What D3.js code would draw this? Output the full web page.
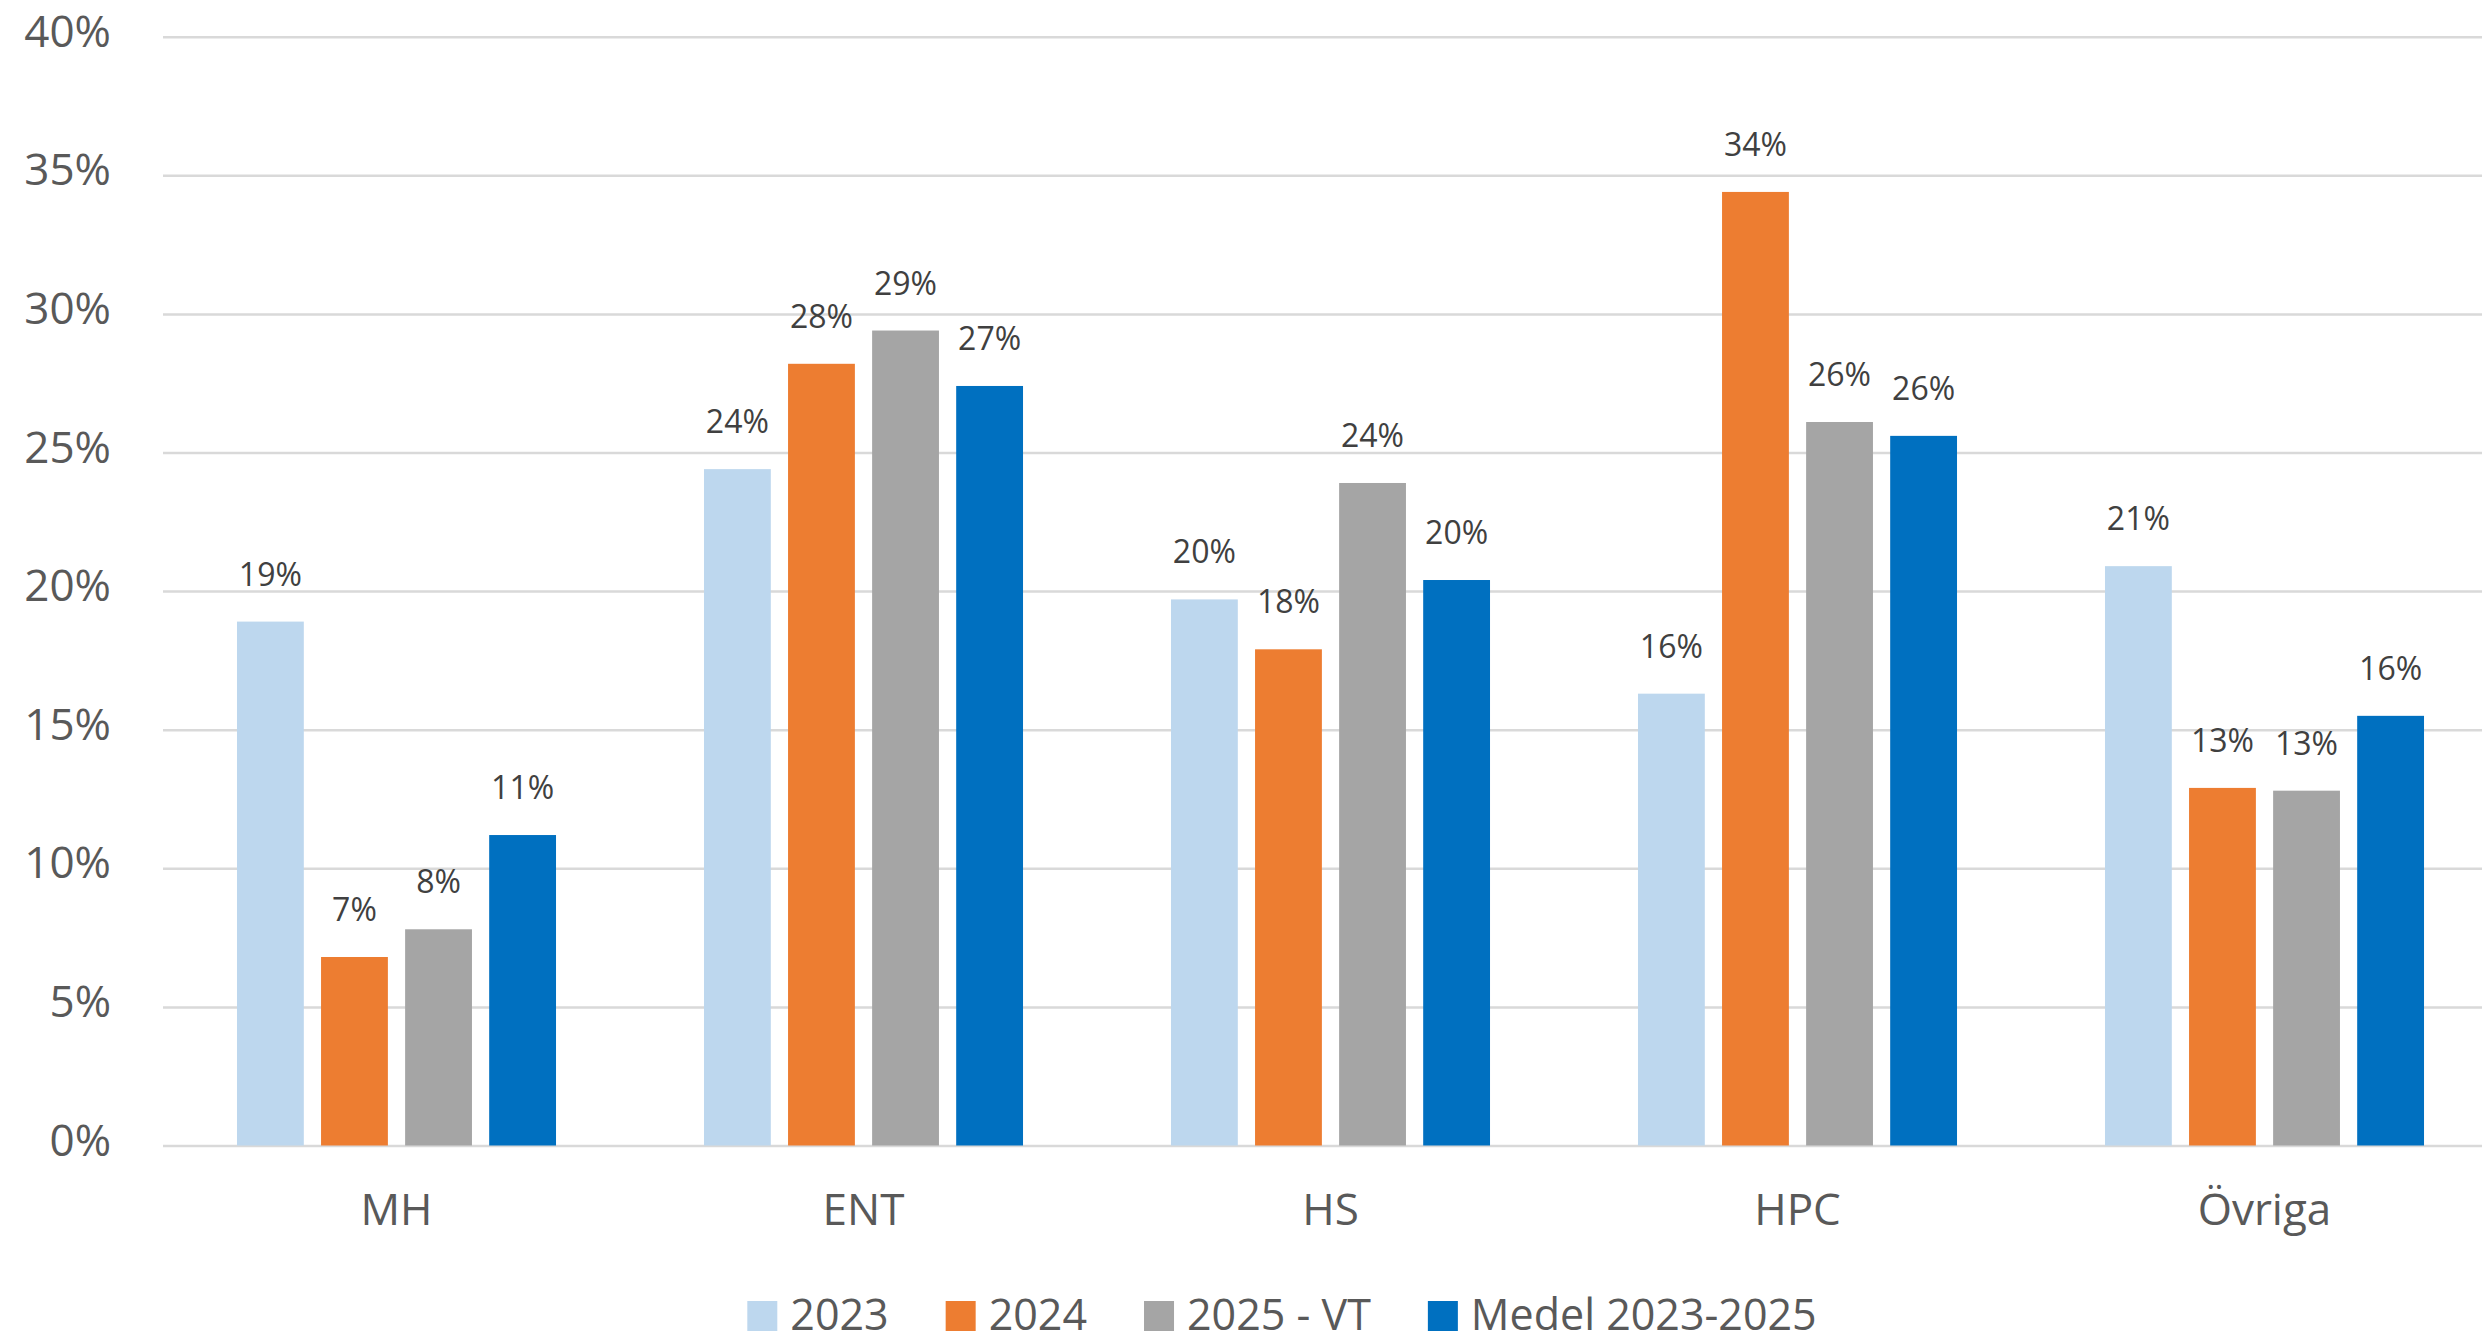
<!DOCTYPE html>
<html>
<head>
<meta charset="utf-8">
<script src="https://cdn.jsdelivr.net/npm/d3@7"></script>
<style>
  html, body { margin: 0; padding: 0; background: #fff; }
  svg { display: block; font-family: "Open Sans", "Noto Sans", sans-serif; }
</style>
</head>
<body>
<svg id="chart" width="2482" height="1343"></svg>
<script>
// Share per category and period
const categories = ["MH", "ENT", "HS", "HPC", "Övriga"];
const seriesNames = ["2023", "2024", "2025 - VT", "Medel 2023-2025"];
const values2023 = [0.189, 0.244, 0.197, 0.163, 0.209];
const values2024 = [0.068, 0.282, 0.179, 0.344, 0.129];
const values2025 = [0.078, 0.294, 0.239, 0.261, 0.128];
const valuesMedel = [0.112, 0.274, 0.204, 0.256, 0.155];
const yTicks = [0, 0.05, 0.10, 0.15, 0.20, 0.25, 0.30, 0.35, 0.40];
const seriesColors = ["#bdd7ee", "#ed7d31", "#a5a5a5", "#0070c0"];

const seriesValues = [values2023, values2024, values2025, valuesMedel];
const rows = categories.map((c, i) => ({
  category: c,
  values: seriesNames.map((s, j) => ({ series: s, value: seriesValues[j][i], idx: j }))
}));

const FONT = '"Open Sans", "Noto Sans", sans-serif';
const svg = d3.select("#chart");
const plotLeft = 163, plotRight = 2498, plotTop = 36.7, plotBottom = 1145.5;

const x0 = d3.scaleBand().domain(categories).range([plotLeft, plotRight]).padding(0);
const x1 = d3.scaleBand().domain(seriesNames).range([0, x0.bandwidth()])
  .paddingInner(0.205).paddingOuter(0.88);
const y = d3.scaleLinear().domain([0, 0.40]).range([plotBottom, plotTop]);
const color = d3.scaleOrdinal().domain(seriesNames).range(seriesColors);
const pct = d3.format(".0%");

// Horizontal gridlines with percentage labels
const yAxis = d3.axisLeft(y).tickValues(yTicks).tickFormat(pct)
  .tickSize(-(plotRight - plotLeft)).tickPadding(52);
const gy = svg.append("g").attr("transform", `translate(${plotLeft},0)`).call(yAxis)
  .attr("font-family", FONT);
gy.select(".domain").remove();
gy.selectAll(".tick line").attr("stroke", "#d9d9d9").attr("stroke-width", 2.5);
gy.selectAll(".tick text")
  .attr("fill", "#595959").attr("font-size", 44).attr("dy", "0.22em");

// Category labels
const xAxis = d3.axisBottom(x0).tickSize(0).tickPadding(48);
const gx = svg.append("g").attr("transform", `translate(0,${plotBottom})`).call(xAxis)
  .attr("font-family", FONT);
gx.select(".domain").remove();
gx.selectAll(".tick text").attr("fill", "#595959").attr("font-size", 44);

// Bars
const groups = svg.append("g").selectAll("g").data(rows).join("g")
  .attr("transform", d => `translate(${x0(d.category)},0)`);

groups.selectAll("rect").data(d => d.values).join("rect")
  .attr("x", d => x1(d.series))
  .attr("width", x1.bandwidth())
  .attr("y", d => y(d.value))
  .attr("height", d => y(0) - y(d.value))
  .attr("fill", d => color(d.series));

// Value labels above the bars
groups.selectAll("text.value").data(d => d.values).join("text")
  .attr("class", "value")
  .attr("x", d => x1(d.series) + x1.bandwidth() / 2)
  .attr("y", d => y(d.value) - 36)
  .attr("text-anchor", "middle")
  .attr("font-size", 32)
  .attr("fill", "#404040")
  .text(d => pct(d.value));

// Legend, centred below the plot
const legend = svg.append("g");
const items = legend.selectAll("g").data(seriesNames).join("g");
items.append("rect").attr("width", 30).attr("height", 30).attr("y", -29)
  .attr("fill", d => color(d));
items.append("text").attr("x", 43).attr("y", 0)
  .attr("font-size", 43).attr("fill", "#595959").text(d => d);

let cursor = 0;
items.each(function () {
  const g = d3.select(this);
  const w = 43 + g.select("text").node().getComputedTextLength();
  g.attr("transform", `translate(${cursor},0)`);
  cursor += w + 57;
});
const legendWidth = cursor - 57;
legend.attr("transform", `translate(${1282 - legendWidth / 2},1330)`);
</script>
</body>
</html>
